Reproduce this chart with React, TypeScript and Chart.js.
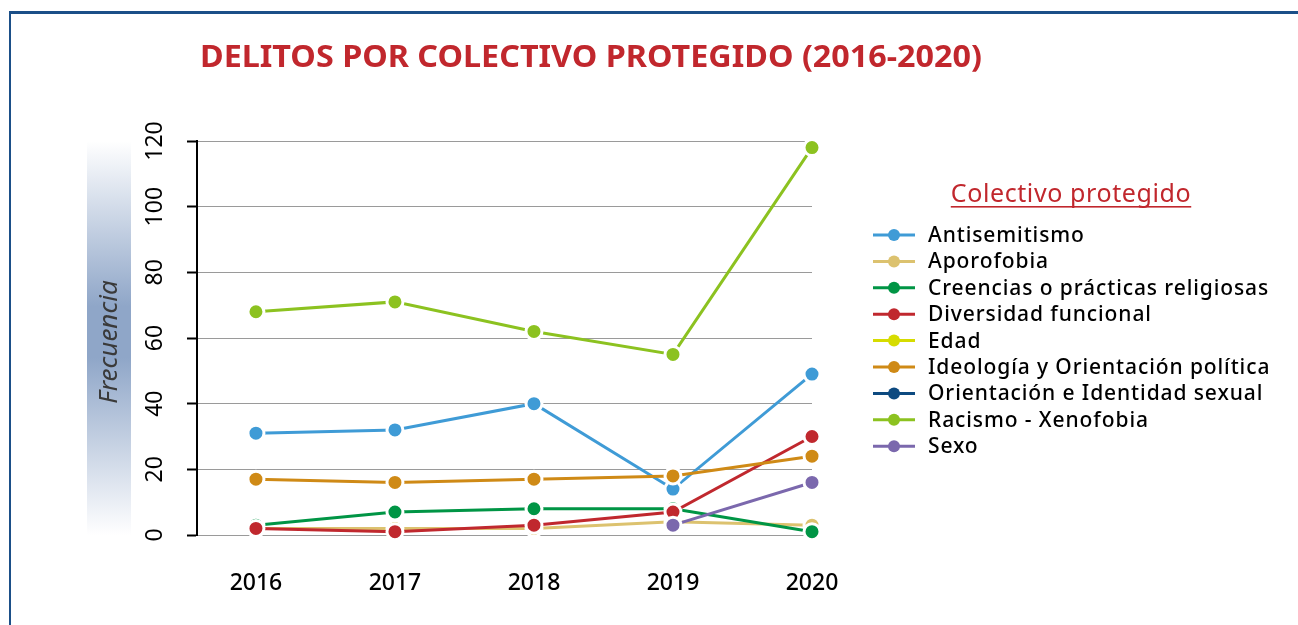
import React, { useEffect, useRef } from "react";
import { Chart, registerables } from "chart.js";
Chart.register(...registerables);

const chartTitle = "DELITOS POR COLECTIVO PROTEGIDO (2016-2020)";
const legendTitle = "Colectivo protegido";
const yAxisTitle = "Frecuencia";
const years = [2016, 2017, 2018, 2019, 2020];
const yTicks = [0, 20, 40, 60, 80, 100, 120];

const seriesNames = [
  "Antisemitismo",
  "Aporofobia",
  "Creencias o prácticas religiosas",
  "Diversidad funcional",
  "Edad",
  "Ideología y Orientación política",
  "Orientación e Identidad sexual",
  "Racismo - Xenofobia",
  "Sexo",
];
const seriesColors = [
  "#3f9bd6",
  "#dcc26f",
  "#009545",
  "#c0282e",
  "#d6dc00",
  "#cf8a16",
  "#0d4a80",
  "#8cc220",
  "#7b68ad",
];

const antisemitismo = [31, 32, 40, 14, 49];
const aporofobia = [2, 2, 2, 4, 3];
const creencias = [3, 7, 8, 8, 1];
const diversidad = [2, 1, 3, 7, 30];
const edad = [null, null, null, null, null];
const ideologia = [17, 16, 17, 18, 24];
const orientacion = [null, null, null, null, null];
const racismo = [68, 71, 62, 55, 118];
const sexo = [null, null, null, 3, 16];

const seriesValues = [
  antisemitismo,
  aporofobia,
  creencias,
  diversidad,
  edad,
  ideologia,
  orientacion,
  racismo,
  sexo,
];

const FONT = "'Noto Sans', 'DejaVu Sans', sans-serif";

const decor = {
  id: "decor",
  beforeDraw(chart: any) {
    const ctx = chart.ctx;
    const { top, bottom } = chart.chartArea;
    ctx.save();
    ctx.fillStyle = "#ffffff";
    ctx.fillRect(0, 0, chart.width, chart.height);
    // frame
    ctx.fillStyle = "#1b4f88";
    ctx.fillRect(9, 11, chart.width, 3);
    ctx.fillRect(9, 11, 2, chart.height);
    // y title band
    const g = ctx.createLinearGradient(0, top, 0, bottom);
    g.addColorStop(0, "rgba(143,166,200,0)");
    g.addColorStop(0.42, "rgba(143,166,200,1)");
    g.addColorStop(0.55, "rgba(143,166,200,1)");
    g.addColorStop(1, "rgba(143,166,200,0)");
    ctx.fillStyle = g;
    ctx.fillRect(87, top, 44, bottom - top);
    ctx.restore();
  },
  afterDraw(chart: any) {
    const ctx = chart.ctx;
    ctx.save();
    // title
    ctx.fillStyle = "#c1272d";
    ctx.font = `bold 30px ${FONT}`;
    ctx.textBaseline = "alphabetic";
    ctx.textAlign = "left";
    const tw = ctx.measureText(chartTitle).width;
    const target = 782;
    ctx.save();
    ctx.translate(200, 67);
    ctx.scale(target / tw, 1);
    ctx.fillText(chartTitle, 0, 0);
    ctx.restore();

    // y title
    ctx.save();
    ctx.translate(117, 342);
    ctx.rotate(-Math.PI / 2);
    ctx.fillStyle = "#3a3a3a";
    ctx.font = `italic 26px ${FONT}`;
    ctx.textAlign = "center";
    ctx.textBaseline = "alphabetic";
    ctx.fillText(yAxisTitle, 0, 0);
    ctx.restore();

    // y tick labels (rotated)
    const ys = chart.scales.y;
    ctx.fillStyle = "#000";
    ctx.font = `23px ${FONT}`;
    ctx.textAlign = "center";
    ctx.textBaseline = "middle";
    ys.ticks.forEach((t: any) => {
      const py = ys.getPixelForValue(t.value);
      ctx.save();
      ctx.translate(154, py);
      ctx.rotate(-Math.PI / 2);
      ctx.fillText(String(t.value), 0, 1);
      ctx.restore();
    });

    // legend title
    ctx.fillStyle = "#c1272d";
    ctx.font = `25px ${FONT}`;
    (ctx as any).letterSpacing = "0.6px";
    ctx.textAlign = "left";
    ctx.textBaseline = "alphabetic";
    const lw = ctx.measureText(legendTitle).width;
    const lx = 1071 - lw / 2;
    const ly = 202;
    ctx.fillText(legendTitle, lx, ly);
    ctx.fillRect(lx, ly + 4, lw, 1.6);

    // legend items
    ctx.font = `500 21px ${FONT}`;
    (ctx as any).letterSpacing = "0.9px";
    ctx.textAlign = "left";
    ctx.textBaseline = "middle";
    chart.data.datasets.forEach((ds: any, i: number) => {
      const y = 235 + i * 26.4;
      ctx.strokeStyle = ds.borderColor;
      ctx.lineWidth = 3;
      ctx.beginPath();
      ctx.moveTo(873, y);
      ctx.lineTo(915, y);
      ctx.stroke();
      ctx.fillStyle = ds.borderColor;
      ctx.beginPath();
      ctx.arc(894, y, 6, 0, Math.PI * 2);
      ctx.fill();
      ctx.fillStyle = "#000";
      ctx.fillText(ds.label, 928, y + 1);
    });
    ctx.restore();
  },
};

export default function App() {
  const ref = useRef<HTMLCanvasElement | null>(null);
  useEffect(() => {
    if (!ref.current) return;
    const datasets = seriesNames.map((name, i) => ({
      label: name,
      data: years.map((yr, j) => ({ x: yr, y: seriesValues[i][j] })),
      borderColor: seriesColors[i],
      backgroundColor: seriesColors[i],
      pointBackgroundColor: seriesColors[i],
      pointBorderColor: "#ffffff",
      pointBorderWidth: 3,
      pointRadius: 8,
      borderWidth: 3,
      spanGaps: false,
      order: -i,
      clip: false as any,
    }));
    const chart = new Chart(ref.current, {
      type: "line",
      data: { datasets },
      plugins: [decor],
      options: {
        animation: false,
        responsive: false,
        devicePixelRatio: 1,
        layout: { padding: { left: 137, top: 141, right: 486, bottom: 30 } },
        plugins: { legend: { display: false }, title: { display: false }, tooltip: { enabled: false } },
        scales: {
          x: {
            type: "linear",
            min: 2015.576,
            max: 2020,
            afterBuildTicks: (s: any) => {
              s.ticks = years.map((v) => ({ value: v }));
            },
            afterFit: (s: any) => {
              s.height = 60;
            },
            grid: { display: false, drawTicks: false },
            border: { display: false },
            ticks: {
              padding: 35,
              color: "#000",
              font: { family: FONT, size: 23, weight: 500 },
              callback: (v: any) => String(v),
              maxRotation: 0,
              autoSkip: false,
            },
          },
          y: {
            type: "linear",
            min: 0,
            max: 120,
            afterBuildTicks: (s: any) => {
              s.ticks = yTicks.map((v) => ({ value: v }));
            },
            afterFit: (s: any) => {
              s.width = 60;
            },
            grid: {
              color: "#9a9a9a",
              lineWidth: 1,
              drawTicks: true,
              tickLength: 10,
              tickColor: "#000",
              tickWidth: 2,
            },
            border: { display: true, color: "#000", width: 2 },
            ticks: { display: false },
          },
        },
      },
    });
    return () => chart.destroy();
  }, []);
  return (
    <div style={{ position: "fixed", left: 0, top: 0, width: 1298, height: 625 }}>
      <canvas ref={ref} width={1298} height={625} style={{ width: 1298, height: 625, display: "block" }} />
    </div>
  );
}
